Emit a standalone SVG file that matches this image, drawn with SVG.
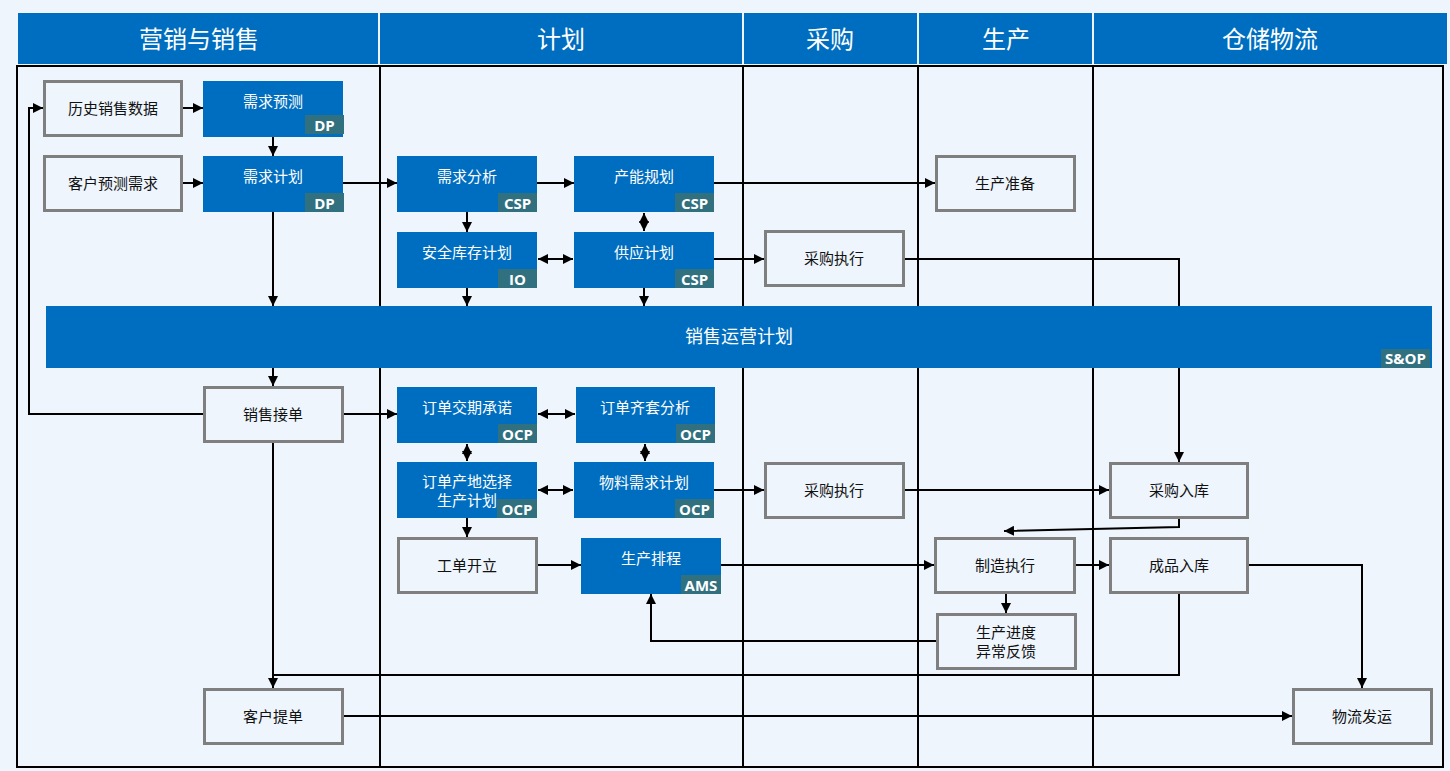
<svg xmlns="http://www.w3.org/2000/svg" width="1450" height="771" viewBox="0 0 1450 771">
<defs>
<marker id="ah" viewBox="0 0 10 10" refX="10" refY="5" markerWidth="10" markerHeight="10" markerUnits="userSpaceOnUse" orient="auto-start-reverse">
<path d="M0,0 L10,5 L0,10 z" fill="#000"/>
</marker>
<style>
.hd{fill:#006EC0}
.ht{font-family:"Noto Sans CJK SC","Noto Sans",sans-serif;font-size:24px;fill:#fff;text-anchor:middle;dominant-baseline:central}
.b{fill:#006EC0}
.g{fill:none;stroke:#7F7F7F;stroke-width:3}
.tg{fill:#31707F}
.bt{font-family:"Noto Sans CJK SC","Noto Sans",sans-serif;font-size:15px;fill:#fff;text-anchor:middle;dominant-baseline:central}
.gt{font-family:"Noto Sans CJK SC","Noto Sans",sans-serif;font-size:15px;fill:#111;text-anchor:middle;dominant-baseline:central}
.tt{font-family:"Open Sans","Noto Sans",sans-serif;font-size:15px;font-weight:bold;fill:#fff;text-anchor:middle;dominant-baseline:central}
.ln{fill:none;stroke:#000;stroke-width:2}
.c{fill:none;stroke:#000;stroke-width:2;marker-end:url(#ah)}
.d{fill:none;stroke:#000;stroke-width:2;marker-start:url(#ah);marker-end:url(#ah)}
</style>
</defs>
<rect x="0" y="0" width="1450" height="771" fill="#EEF5FD"/>

<g id="header">
<rect class="hd" x="18" y="13" width="1429" height="51"/>
<g stroke="#EEF5FD" stroke-width="2">
<line x1="379" y1="13" x2="379" y2="64"/>
<line x1="743" y1="13" x2="743" y2="64"/>
<line x1="918" y1="13" x2="918" y2="64"/>
<line x1="1093" y1="13" x2="1093" y2="64"/>
</g>
<text class="ht" x="199" y="37">营销与销售</text>
<text class="ht" x="561" y="37">计划</text>
<text class="ht" x="830" y="37">采购</text>
<text class="ht" x="1006" y="37">生产</text>
<text class="ht" x="1270" y="37">仓储物流</text>
</g>

<g id="frame">
<rect x="17" y="66" width="1426" height="701" fill="none" stroke="#000" stroke-width="2"/>
<line class="ln" x1="380" y1="66" x2="380" y2="767"/>
<line class="ln" x1="743" y1="66" x2="743" y2="767"/>
<line class="ln" x1="918" y1="66" x2="918" y2="767"/>
<line class="ln" x1="1093" y1="66" x2="1093" y2="767"/>
</g>

<g id="connectors">
<line class="c" x1="183" y1="108" x2="203" y2="108"/>
<line class="c" x1="273" y1="137" x2="273" y2="156"/>
<line class="c" x1="183" y1="183" x2="203" y2="183"/>
<line class="c" x1="343" y1="183" x2="397" y2="183"/>
<line class="c" x1="537" y1="183" x2="574" y2="183"/>
<line class="c" x1="714" y1="183" x2="935" y2="183"/>
<line class="c" x1="467" y1="212" x2="467" y2="232"/>
<line class="d" x1="644" y1="213" x2="644" y2="231"/>
<line class="d" x1="538" y1="259" x2="573" y2="259"/>
<line class="c" x1="714" y1="259" x2="764" y2="259"/>
<path class="c" d="M905,259 H1179 V462"/>
<line class="c" x1="273" y1="212" x2="273" y2="306"/>
<line class="c" x1="467" y1="288" x2="467" y2="306"/>
<line class="c" x1="644" y1="288" x2="644" y2="306"/>
<line class="c" x1="273" y1="368" x2="273" y2="386"/>
<path class="c" d="M203,414 H29 V108 H43"/>
<line class="c" x1="344" y1="414" x2="397" y2="414"/>
<line class="d" x1="538" y1="414" x2="575" y2="414"/>
<line class="d" x1="467" y1="444" x2="467" y2="461"/>
<line class="d" x1="645" y1="444" x2="645" y2="461"/>
<line class="d" x1="538" y1="490" x2="573" y2="490"/>
<line class="c" x1="714" y1="490" x2="764" y2="490"/>
<line class="c" x1="905" y1="490" x2="1109" y2="490"/>
<line class="c" x1="467" y1="518" x2="467" y2="537"/>
<line class="c" x1="538" y1="565" x2="581" y2="565"/>
<line class="c" x1="721" y1="565" x2="934" y2="565"/>
<path class="c" d="M1179,519 V527 L1004,531"/>
<line class="c" x1="1076" y1="565" x2="1109" y2="565"/>
<line class="c" x1="1006" y1="594" x2="1006" y2="613"/>
<path class="c" d="M936,641 H651 V594"/>
<path class="ln" d="M1179,594 V675 H273"/>
<line class="c" x1="273" y1="443" x2="273" y2="688"/>
<path class="c" d="M1249,565 H1362 V688"/>
<line class="c" x1="344" y1="716" x2="1292" y2="716"/>
</g>

<g id="sop">
<rect class="b" x="46" y="306" width="1386" height="62"/>
<rect class="tg" x="1381" y="349" width="49" height="19"/>
<text class="bt" x="739" y="335" style="font-size:18px">销售运营计划</text>
<text class="tt" x="1405.5" y="358">S&amp;OP</text>
</g>

<g id="n-xqyc"><rect class="b" x="203" y="81" width="140" height="56"/><rect class="tg" x="305" y="115" width="39" height="19"/><text class="bt" x="273" y="100">需求预测</text><text class="tt" x="324.5" y="124.5">DP</text></g>
<g id="n-xqjh"><rect class="b" x="203" y="156" width="140" height="56"/><rect class="tg" x="305" y="193" width="39" height="19"/><text class="bt" x="273" y="175">需求计划</text><text class="tt" x="324.5" y="202.5">DP</text></g>
<g id="n-xqfx"><rect class="b" x="397" y="156" width="140" height="56"/><rect class="tg" x="498" y="193" width="39" height="19"/><text class="bt" x="467" y="175">需求分析</text><text class="tt" x="517.5" y="202.5">CSP</text></g>
<g id="n-cngh"><rect class="b" x="574" y="156" width="140" height="56"/><rect class="tg" x="675" y="193" width="39" height="19"/><text class="bt" x="644" y="175">产能规划</text><text class="tt" x="694.5" y="202.5">CSP</text></g>
<g id="n-aqkc"><rect class="b" x="397" y="232" width="140" height="56"/><rect class="tg" x="498" y="269" width="39" height="19"/><text class="bt" x="467" y="251">安全库存计划</text><text class="tt" x="517.5" y="278.5">IO</text></g>
<g id="n-gyjh"><rect class="b" x="574" y="232" width="140" height="56"/><rect class="tg" x="675" y="269" width="39" height="19"/><text class="bt" x="644" y="251">供应计划</text><text class="tt" x="694.5" y="278.5">CSP</text></g>
<g id="n-ddjq"><rect class="b" x="397" y="387" width="140" height="56"/><rect class="tg" x="498" y="424" width="39" height="19"/><text class="bt" x="467" y="406">订单交期承诺</text><text class="tt" x="517.5" y="433.5">OCP</text></g>
<g id="n-ddqt"><rect class="b" x="576" y="387" width="139" height="56"/><rect class="tg" x="676" y="424" width="39" height="19"/><text class="bt" x="645" y="406">订单齐套分析</text><text class="tt" x="695.5" y="433.5">OCP</text></g>
<g id="n-ddcd"><rect class="b" x="397" y="462" width="140" height="56"/><rect class="tg" x="497" y="499" width="40" height="19"/><text class="bt" x="467" y="480">订单产地选择</text><text class="bt" x="467" y="499">生产计划</text><text class="tt" x="517" y="508.5">OCP</text></g>
<g id="n-wlxq"><rect class="b" x="574" y="462" width="140" height="56"/><rect class="tg" x="675" y="499" width="39" height="19"/><text class="bt" x="644" y="481">物料需求计划</text><text class="tt" x="694.5" y="508.5">OCP</text></g>
<g id="n-scpc"><rect class="b" x="581" y="538" width="140" height="56"/><rect class="tg" x="681" y="575" width="40" height="19"/><text class="bt" x="651" y="557">生产排程</text><text class="tt" x="701" y="584.5">AMS</text></g>

<g id="n-lsxs"><rect class="g" x="44.5" y="81.5" width="137" height="54"/><text class="gt" x="113" y="107">历史销售数据</text></g>
<g id="n-khyc"><rect class="g" x="44.5" y="156.5" width="137" height="54"/><text class="gt" x="113" y="182">客户预测需求</text></g>
<g id="n-cgzx1"><rect class="g" x="765.5" y="231.5" width="138" height="54"/><text class="gt" x="834" y="257">采购执行</text></g>
<g id="n-sczb"><rect class="g" x="936.5" y="156.5" width="138" height="54"/><text class="gt" x="1005" y="182">生产准备</text></g>
<g id="n-xsjd"><rect class="g" x="204.5" y="387.5" width="138" height="54"/><text class="gt" x="273" y="413">销售接单</text></g>
<g id="n-cgzx2"><rect class="g" x="765.5" y="463.5" width="138" height="54"/><text class="gt" x="834" y="489">采购执行</text></g>
<g id="n-gdkl"><rect class="g" x="398.5" y="538.5" width="138" height="54"/><text class="gt" x="467" y="564">工单开立</text></g>
<g id="n-cgrk"><rect class="g" x="1110.5" y="463.5" width="137" height="54"/><text class="gt" x="1179" y="489">采购入库</text></g>
<g id="n-zzzx"><rect class="g" x="935.5" y="538.5" width="139" height="54"/><text class="gt" x="1005" y="564">制造执行</text></g>
<g id="n-cprk"><rect class="g" x="1110.5" y="538.5" width="137" height="54"/><text class="gt" x="1179" y="564">成品入库</text></g>
<g id="n-scjd"><rect class="g" x="937.5" y="614.5" width="138" height="54"/><text class="gt" x="1006" y="631">生产进度</text><text class="gt" x="1006" y="650">异常反馈</text></g>
<g id="n-khtd"><rect class="g" x="204.5" y="689.5" width="138" height="54"/><text class="gt" x="273" y="715">客户提单</text></g>
<g id="n-wlfy"><rect class="g" x="1293.5" y="689.5" width="138" height="54"/><text class="gt" x="1362" y="715">物流发运</text></g>
</svg>
